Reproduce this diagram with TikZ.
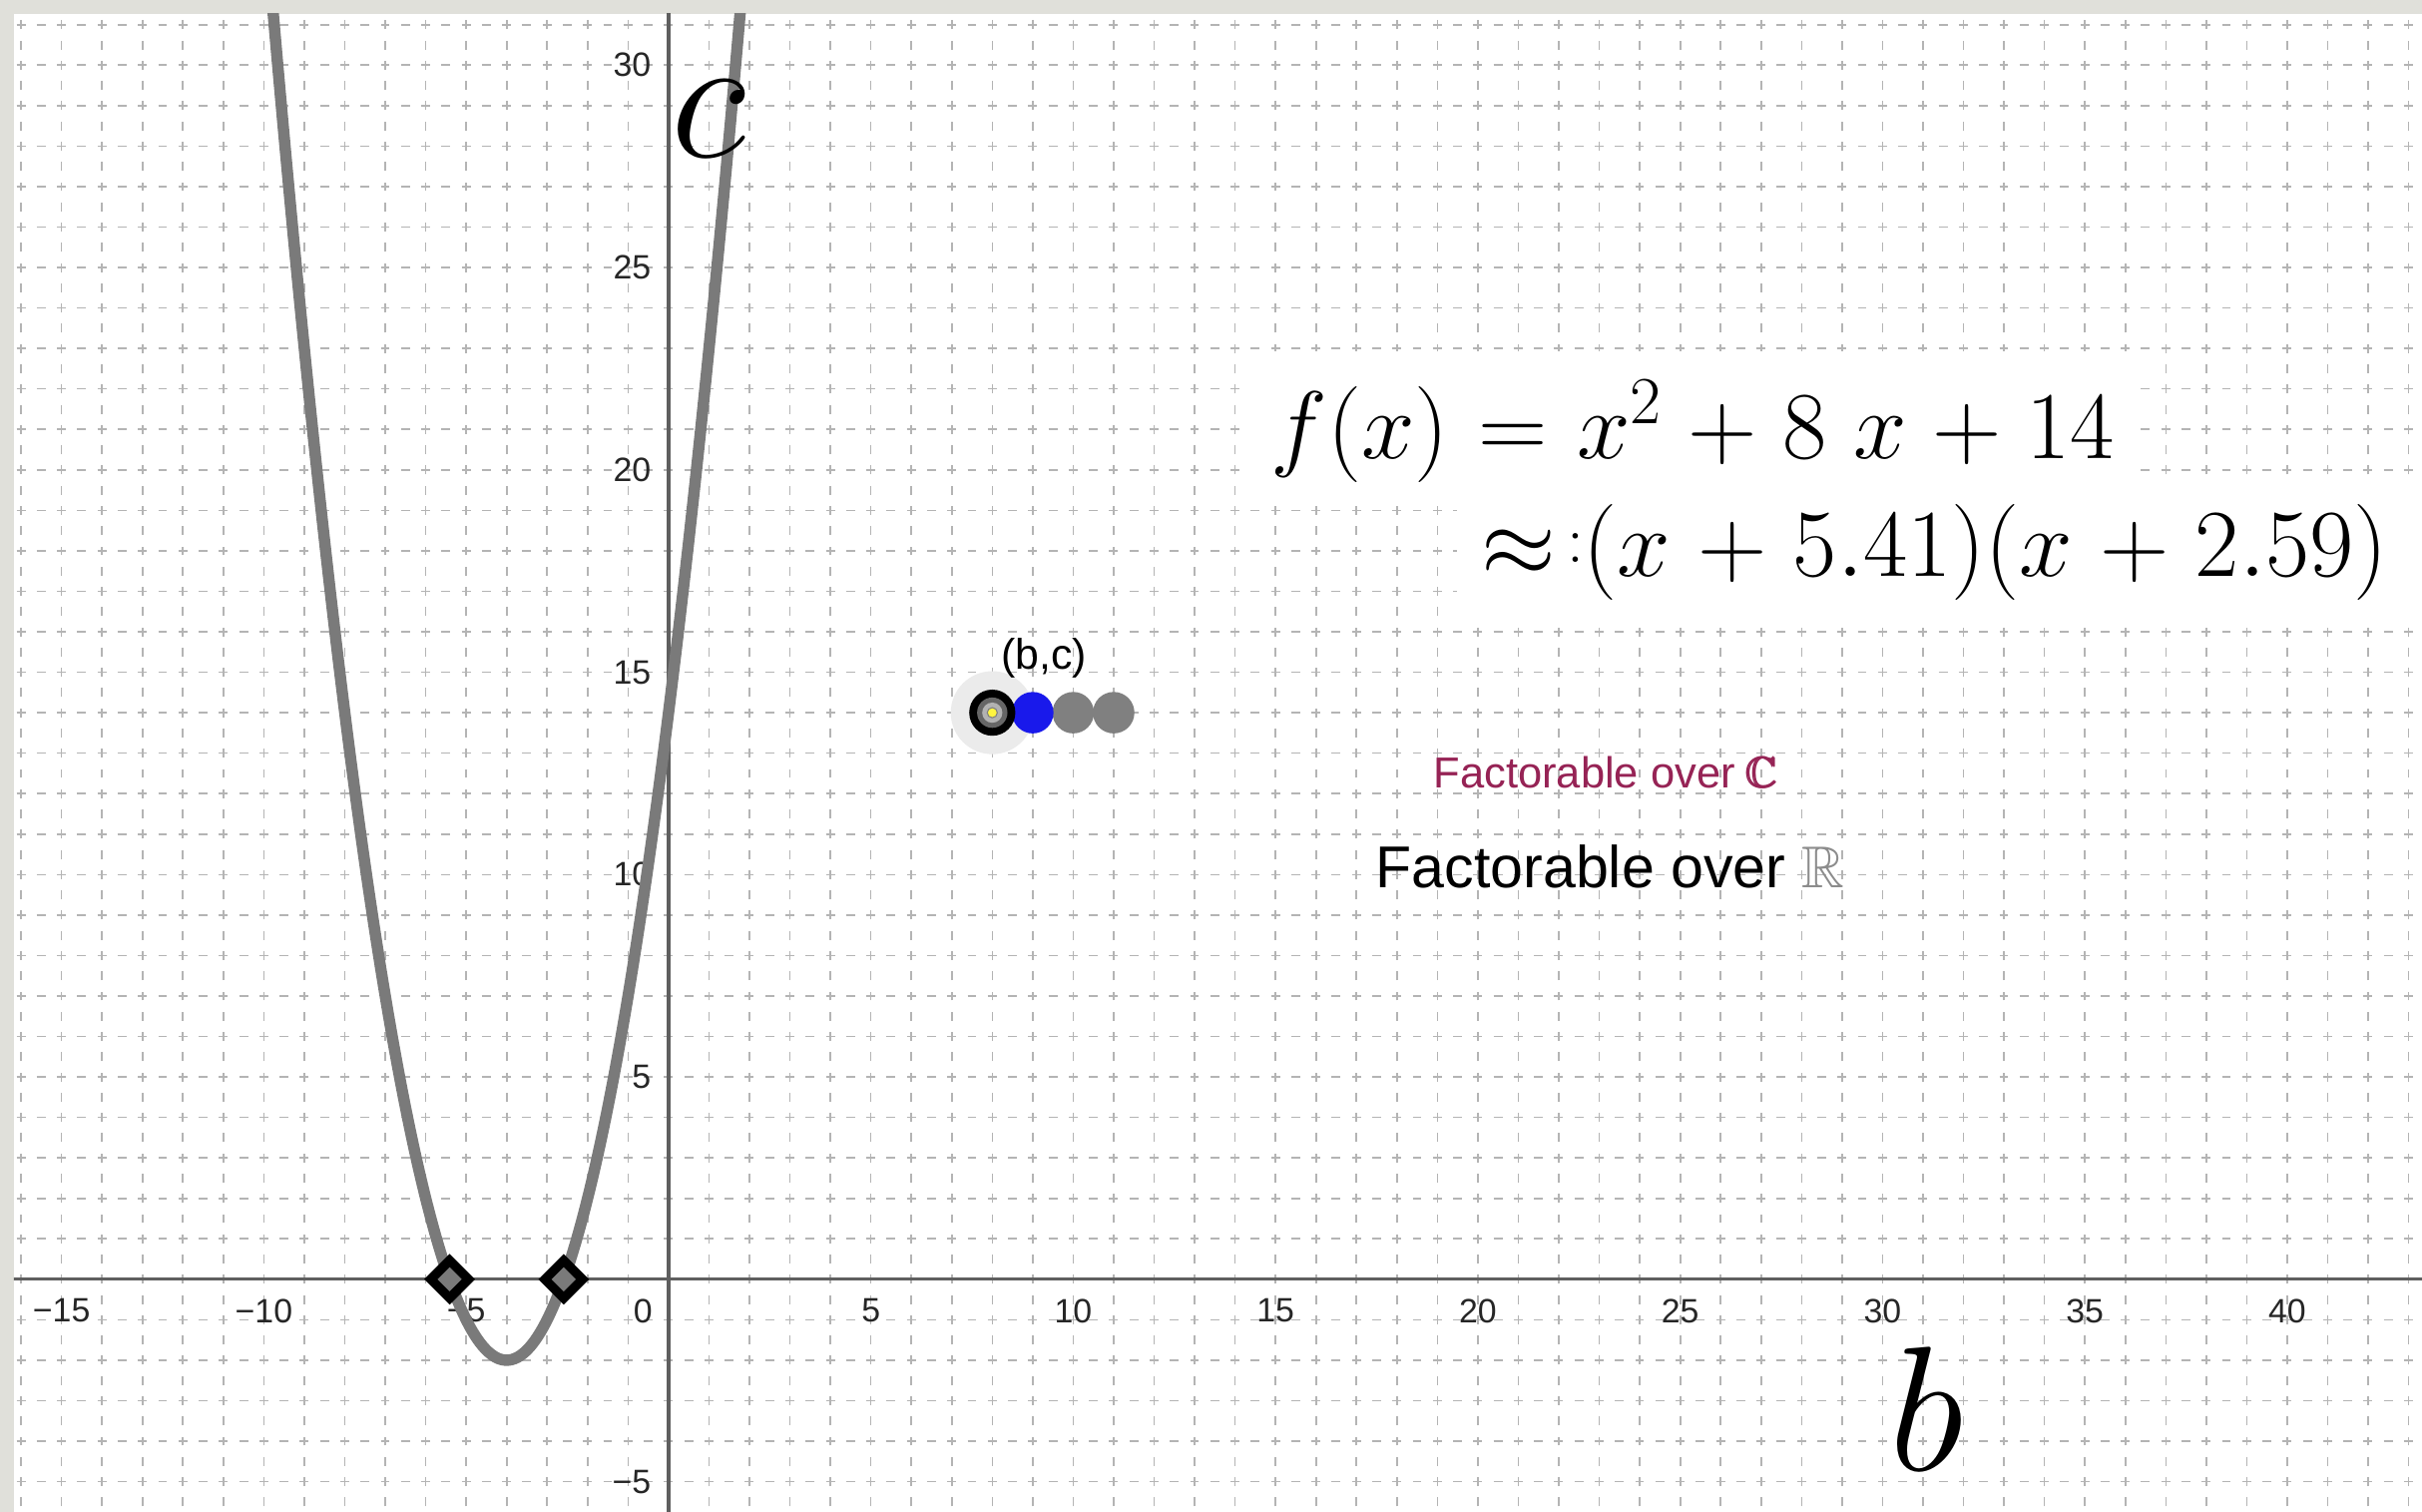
\RequirePackage{fix-cm}
\documentclass[tikz,border=0pt]{standalone}
\usepackage{amsmath,amssymb}
\usepackage{fontspec}
\setsansfont{Liberation Sans}
\usetikzlibrary{shapes.geometric}
\definecolor{framegray}{RGB}{224,224,218}
\definecolor{gridgray}{RGB}{180,180,180}
\definecolor{axisgray}{RGB}{95,95,95}
\definecolor{curvegray}{RGB}{122,122,122}
\definecolor{maroon}{RGB}{150,35,85}
\definecolor{ptblue}{RGB}{25,25,235}
\definecolor{ptgray}{RGB}{128,128,128}
\newcommand{\widemath}{\medmuskip=4.75mu\relax\thickmuskip=5.5mu\relax}

\begin{document}
\begin{tikzpicture}[x=0.4cm, y=0.4cm,
  gridline/.style={gridgray, line width=0.45pt, dash pattern=on 2.5pt off 3.19pt, dash phase=1.25pt},
  axisline/.style={axisgray, line width=0.9pt},
  ticklabel/.style={font=\sffamily\fontsize{9.5}{11}\selectfont, text=black!85, inner sep=0pt},
  rootmark/.style={diamond, draw=black, line width=2.6pt, fill=curvegray, inner sep=0pt, minimum size=0.41cm},
  dot/.style={circle, inner sep=0pt, minimum size=0.41cm},
  bigmath/.style={font=\fontsize{27}{32}\selectfont, anchor=base west, inner sep=0pt}]
\useasboundingbox (-16.52,-5.75) rectangle (43.33,31.61);
% frame and plot area
\fill[framegray] (-16.52,-5.75) rectangle (43.33,31.61);
\fill[white] (-16.175,-5.75) rectangle (43.33,31.265);
\begin{scope}
\clip (-16.175,-5.75) rectangle (43.33,31.265);
% grid
\foreach \x in {-17,...,44} \draw[gridline] (\x,-6) -- (\x,32);
\foreach \y in {-6,...,32} \draw[gridline] (-17,\y) -- (44,\y);
% boxes behind the formula
\fill[white] (14.15,19.38) rectangle (36.3,22.93);
\fill[white] (19.48,16.17) rectangle (43.4,19.87);
% axes
\draw[axisline] (-17,0) -- (44,0);
\draw[axisline] (0,-6) -- (0,32);
% tick labels
\foreach \x/\t [count=\i] in {-15/{−15},-10/{−10},-5/{−5},5/5,10/10,15/15,20/20,25/25,30/30,35/35,40/40}
  \node[ticklabel] (xtick\i) at (\x,-0.78) {\t};
\foreach \y/\t [count=\i] in {-5/{−5},5/5,10/10,15/15,20/20,25/25,30/30}
  \node[ticklabel, anchor=east] (ytick\i) at (-0.42,\y) {\t};
\node[ticklabel] (origin) at (-0.63,-0.78) {0};
% parabola
\draw[curvegray, line width=3.2pt] plot[domain=-10.3:2.3, samples=160, smooth] (\x, {\x*\x+8*\x+14});
\end{scope}
% roots
\node[rootmark] (rootL) at (-5.41,0) {};
\node[rootmark] (rootR) at (-2.59,0) {};
% the point (b,c) and its neighbours
\node[circle, fill=black!8, inner sep=0pt, minimum size=0.82cm] (halo) at (8,14) {};
\node[dot, fill=ptgray] (pt11) at (11,14) {};
\node[dot, fill=ptgray] (pt10) at (10,14) {};
\node[dot, fill=ptblue] (pt9) at (9,14) {};
\node[circle, fill=black, inner sep=0pt, minimum size=0.456cm] (pt8) at (8,14) {};
\node[circle, fill=black!60, inner sep=0pt, minimum size=0.3cm] (pt8a) at (pt8) {};
\node[circle, fill=black!30, inner sep=0pt, minimum size=0.2cm] (pt8b) at (pt8) {};
\node[circle, fill=yellow!75!white, draw=black!50, line width=0.3pt, inner sep=0pt, minimum size=0.1cm] (pt8c) at (pt8) {};
\node[font=\sffamily\fontsize{12}{14}\selectfont, inner sep=0pt] (bclabel) at (9.28,15.35) {(b,c)};
% formula
\node[bigmath] (fline1) at (14.87,20.29) {$\widemath f(x) = x^2 + 8\mskip5mu x + 14$};
\node[bigmath] (fline2) at (20.07,17.36) {$\medmuskip=5mu\relax \approx\!\raisebox{0.15em}{$\scriptstyle:$}(x + 5.41)(x + 2.59)$};
% factorable
\node[font=\sffamily\fontsize{12.2}{14}\selectfont, text=maroon, inner sep=0pt] (overC) at (23.17,12.53) {Factorable over $\pmb{\mathbb{C}}$};
\node[font=\sffamily\fontsize{16.6}{19}\selectfont, inner sep=0pt] (overR) at (23.27,10.2) {Factorable over \textcolor{black!45}{$\mathbb{R}$}};
% axis names
\node[font=\fontsize{50}{60}\selectfont, inner sep=0pt] (cname) at (0.99,28.67) {$c$};
\node[font=\fontsize{50}{60}\selectfont, inner sep=0pt] (bname) at (31.08,-3.21) {$b$};
\end{tikzpicture}
\end{document}
